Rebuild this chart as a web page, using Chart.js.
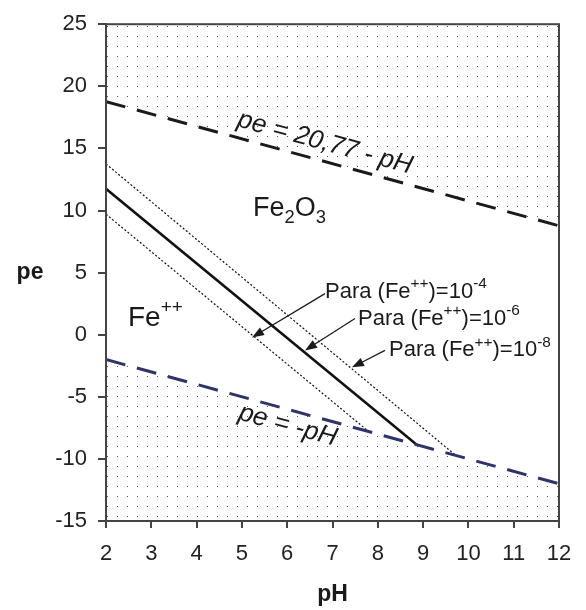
<!DOCTYPE html>
<html><head><meta charset="utf-8">
<script src="https://cdn.jsdelivr.net/npm/chart.js@4.4.0/dist/chart.umd.min.js"></script>
<style>html,body{margin:0;padding:0;background:#fff}</style>
</head><body>
<canvas id="c" width="586" height="610"></canvas>
<script>
// ---- data ----
const xTicks = [2, 3, 4, 5, 6, 7, 8, 9, 10, 11, 12];
const yTicks = [-15, -10, -5, 0, 5, 10, 15, 20, 25];
const upperPH = [2, 12];
const upperPE = [18.77, 8.77];       // pe = 20,77 - pH
const lowerPH = [2, 12];
const lowerPE = [-2, -12];           // pe = -pH
const fe6PH = [2, 8.86];
const fe6PE = [11.75, -8.86];        // (Fe++) = 10^-6
const fe8PH = [2, 9.72];
const fe8PE = [13.75, -9.72];        // (Fe++) = 10^-8
const fe4PH = [2, 7.8];
const fe4PE = [9.7, -7.8];           // (Fe++) = 10^-4
// annotation anchors (data units)
const arrowFrom = [[6.834, 3.31], [7.497, 1.305], [8.159, -1.265]];
const arrowTo = [[5.223, -0.22], [6.393, -1.265], [7.43, -2.63]];
const paraAnchors = [[6.834, 2.99], [7.563, 0.82], [8.247, -1.75]];
const paraExp = ['-4', '-6', '-8'];
const fe2o3Anchor = [5.245, 9.58];
const feAnchor = [2.486, 0.74];
const upperLabelAnchor = [6.79, 14.88];
const lowerLabelAnchor = [5.97, -7.87];

const pts = (xs, ys) => xs.map((x, i) => ({x: x, y: ys[i]}));

// dot pattern
const pc = document.createElement('canvas');
pc.width = 10; pc.height = 10;
const pctx = pc.getContext('2d');
pctx.fillStyle = '#555';
pctx.fillRect(7, 6, 1, 1);
const pattern = document.getElementById('c').getContext('2d').createPattern(pc, 'repeat');

const FONT = '"Liberation Sans", Arial, Helvetica, sans-serif';

function drawRich(ctx, x, y, parts, size, italic) {
  let cx = x;
  for (const p of parts) {
    const s = size * (p.s || 1);
    ctx.font = (italic ? 'italic ' : '') + s + 'px ' + FONT;
    ctx.fillText(p.t, cx, y + (p.dy || 0) * size);
    cx += ctx.measureText(p.t).width;
  }
}

const overlay = {
  id: 'overlay',
  afterDraw(chart) {
    const ctx = chart.ctx;
    const xs = chart.scales.x, ys = chart.scales.y;
    const px = v => xs.getPixelForValue(v), py = v => ys.getPixelForValue(v);
    const a = chart.chartArea;
    ctx.save();
    // frame
    ctx.strokeStyle = '#444';
    ctx.lineWidth = 2;
    ctx.strokeRect(a.left, a.top, a.right - a.left, a.bottom - a.top);
    ctx.fillStyle = '#1a1a1a';
    ctx.textBaseline = 'alphabetic';
    ctx.textAlign = 'left';
    // Fe2O3
    drawRich(ctx, px(fe2o3Anchor[0]), py(fe2o3Anchor[1]),
      [{t: 'Fe'}, {t: '2', s: 0.68, dy: 0.28}, {t: 'O'}, {t: '3', s: 0.68, dy: 0.28}], 27);
    // Fe++
    drawRich(ctx, px(feAnchor[0]), py(feAnchor[1]),
      [{t: 'Fe'}, {t: '++', s: 0.68, dy: -0.45}], 28);
    // Para labels
    paraAnchors.forEach((p, i) => {
      drawRich(ctx, px(p[0]), py(p[1]),
        [{t: 'Para (Fe'}, {t: '++', s: 0.7, dy: -0.45}, {t: ')=10'}, {t: paraExp[i], s: 0.7, dy: -0.45}], 22);
    });
    // arrows
    ctx.strokeStyle = '#1a1a1a';
    ctx.lineWidth = 1.3;
    arrowFrom.forEach((f, i) => {
      const x1 = px(f[0]), y1 = py(f[1]), x2 = px(arrowTo[i][0]), y2 = py(arrowTo[i][1]);
      const ang = Math.atan2(y2 - y1, x2 - x1);
      const L = 12, W = 4.5;
      ctx.beginPath();
      ctx.moveTo(x1, y1);
      ctx.lineTo(x2 - L * 0.8 * Math.cos(ang), y2 - L * 0.8 * Math.sin(ang));
      ctx.stroke();
      ctx.beginPath();
      ctx.moveTo(x2, y2);
      ctx.lineTo(x2 - L * Math.cos(ang) + W * Math.sin(ang), y2 - L * Math.sin(ang) - W * Math.cos(ang));
      ctx.lineTo(x2 - L * Math.cos(ang) - W * Math.sin(ang), y2 - L * Math.sin(ang) + W * Math.cos(ang));
      ctx.closePath();
      ctx.fill();
    });
    // rotated italic labels
    const rot = Math.atan2(py(upperPE[1]) - py(upperPE[0]), px(upperPH[1]) - px(upperPH[0]));
    ctx.textAlign = 'center';
    ctx.font = 'italic 26px ' + FONT;
    [[upperLabelAnchor, 'pe = 20,77 - pH'], [lowerLabelAnchor, 'pe = -pH']].forEach(([an, txt]) => {
      ctx.save();
      ctx.translate(px(an[0]), py(an[1]));
      ctx.rotate(rot);
      ctx.fillText(txt, 0, 0);
      ctx.restore();
    });
    // axis titles
    ctx.font = 'bold 23px ' + FONT;
    ctx.textBaseline = 'middle';
    ctx.fillText('pe', 30, (a.top + a.bottom) / 2);
    ctx.fillText('pH', (a.left + a.right) / 2, 595);
    ctx.restore();
  }
};

new Chart(document.getElementById('c'), {
  type: 'scatter',
  data: {
    datasets: [
      {data: pts(upperPH, upperPE), showLine: true, borderColor: '#1a1a1a', borderWidth: 3,
       borderDash: [20, 12], pointRadius: 0, fill: 'end', backgroundColor: pattern},
      {data: pts(lowerPH, lowerPE), showLine: true, borderColor: '#2e3468', borderWidth: 3,
       borderDash: [20, 12], pointRadius: 0, fill: 'start', backgroundColor: pattern},
      {data: pts(fe6PH, fe6PE), showLine: true, borderColor: '#111', borderWidth: 2.5, pointRadius: 0},
      {data: pts(fe8PH, fe8PE), showLine: true, borderColor: '#111', borderWidth: 1.2, borderDash: [2, 2], pointRadius: 0},
      {data: pts(fe4PH, fe4PE), showLine: true, borderColor: '#111', borderWidth: 1.2, borderDash: [2, 2], pointRadius: 0}
    ]
  },
  options: {
    responsive: false,
    animation: false,
    layout: {padding: {left: 0, top: 23, right: 27, bottom: 0}},
    plugins: {legend: {display: false}, tooltip: {enabled: false}},
    scales: {
      x: {
        type: 'linear', min: 2, max: 12,
        afterBuildTicks: s => { s.ticks = xTicks.map(v => ({value: v})); },
        afterFit: s => { s.height = 89; },
        ticks: {font: {family: FONT, size: 22}, color: '#222', padding: 13, maxRotation: 0},
        grid: {display: true, drawOnChartArea: false, drawTicks: true, tickLength: 7, color: '#444', lineWidth: 2},
        border: {display: true, color: '#444', width: 2}
      },
      y: {
        type: 'linear', min: -15, max: 25,
        afterBuildTicks: s => { s.ticks = yTicks.map(v => ({value: v})); },
        afterFit: s => { s.width = 106; },
        ticks: {font: {family: FONT, size: 22}, color: '#222', padding: 11},
        grid: {display: true, drawOnChartArea: false, drawTicks: true, tickLength: 8, color: '#444', lineWidth: 2},
        border: {display: true, color: '#444', width: 2}
      }
    }
  },
  plugins: [overlay]
});
</script>
</body></html>
